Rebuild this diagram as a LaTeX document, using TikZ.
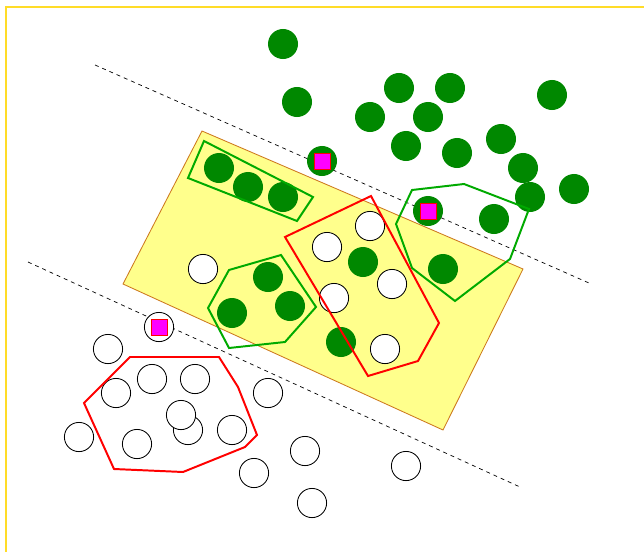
\documentclass[tikz,border=0pt]{standalone}
\usepackage{xcolor}
\usepackage{tikz}
\definecolor{cDot}{RGB}{0,136,0}
\definecolor{cHull}{RGB}{0,170,0}
\definecolor{cBand}{RGB}{255,255,140}
\definecolor{cBandEdge}{RGB}{205,120,30}
\definecolor{cFrame}{RGB}{255,220,40}
\definecolor{cSupport}{RGB}{255,0,255}
\tikzset{
  posdot/.style={circle,fill=cDot,minimum size=0.75cm,inner sep=0pt},
  negdot/.style={circle,draw=black,fill=white,line width=0.6pt,minimum size=0.73cm,inner sep=0pt},
  supvec/.style={rectangle,fill=cSupport,draw=red,line width=0.5pt,minimum size=0.4cm,inner sep=0pt},
  hull/.style={line width=1.4pt},
  margin/.style={dash pattern=on 2.8pt off 2.8pt,line width=0.5pt}
}

\begin{document}
\begin{tikzpicture}[x=0.025cm,y=-0.025cm]
\useasboundingbox (0,0) rectangle (644,552);
\draw[cFrame,line width=0.8pt] (6,552)--(6,7)--(644,7);
% band between the two margins
\draw[fill=cBand,draw=cBandEdge,line width=0.6pt] (202,131)--(523,269)--(443,430)--(123,284)--cycle;
\coordinate (m1a) at (95,65);   \coordinate (m1b) at (589,283);
\coordinate (m2a) at (28,262);  \coordinate (m2b) at (520,487);
\draw[margin] (m1a)--(m1b);
\draw[margin] (m2a)--(m2b);
% positive class
\foreach \x/\y [count=\i] in {283/44,297/102,399/88,450/88,370/117,428/117,406/146,457/153,
  552/95,501/139,523/168,530/197,574/189,494/219,428/211,322/161,443/269,
  219/168,248/187,283/197,268/277,232/313,290/306,363/262,341/342}
  \node[posdot] (p\i) at (\x,\y) {};
% negative class
\foreach \x/\y [count=\i] in {370/226,327/247,392/284,334/298,385/349,203/269,159/327,108/349,
  152/379,195/379,116/393,268/393,188/430,181/415,232/430,79/437,137/444,254/473,
  305/451,312/503,406/466}
  \node[negdot] (n\i) at (\x,\y) {};
% support vectors
\node[supvec] (sv1) at (p16) {};
\node[supvec] (sv2) at (p15) {};
\node[supvec] (sv3) at (n7) {};
% hulls
\draw[hull,cHull] (204,141)--(313,197)--(297,221)--(188,178)--cycle;
\draw[hull,cHull] (229,270)--(281,255)--(316,307)--(285,342)--(229,348)--(208,308)--cycle;
\draw[hull,cHull] (412,190)--(464,184)--(529,209)--(510,259)--(455,301)--(412,268)--(396,224)--cycle;
\draw[hull,red] (285,237)--(371,196)--(439,323)--(418,361)--(368,376)--cycle;
\draw[hull,red] (130,357)--(219,357)--(238,387)--(257,435)--(245,447)--(183,472)--(114,469)--(84,403)--cycle;
\end{tikzpicture}
\end{document}
